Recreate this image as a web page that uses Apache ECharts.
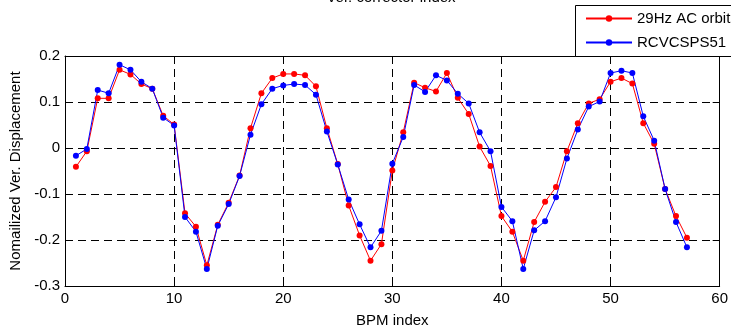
<!DOCTYPE html>
<html>
<head>
<meta charset="utf-8">
<script src="https://cdn.jsdelivr.net/npm/echarts@6/dist/echarts.min.js"></script>
<style>
  html, body { margin: 0; padding: 0; background: #fff; }
  #chart { width: 731px; height: 333px; }
</style>
</head>
<body>
<div id="chart"></div>
<script>
// BPM index (x values)
const bpmIndex = [1, 2, 3, 4, 5, 6, 7, 8, 9, 10, 11, 12, 13, 14, 15, 16, 17, 18, 19, 20,
  21, 22, 23, 24, 25, 26, 27, 28, 29, 30, 31, 32, 33, 34, 35, 36, 37, 38, 39, 40,
  41, 42, 43, 44, 45, 46, 47, 48, 49, 50, 51, 52, 53, 54, 55, 56, 57];

// 29Hz AC orbit (red)
const acOrbit = [-0.041, -0.007, 0.108, 0.108, 0.170, 0.160, 0.139, 0.129, 0.070, 0.051,
  -0.142, -0.171, -0.255, -0.167, -0.119, -0.060, 0.043, 0.119, 0.152, 0.161,
  0.161, 0.158, 0.134, 0.043, -0.035, -0.125, -0.190, -0.245, -0.209, -0.049,
  0.034, 0.142, 0.131, 0.123, 0.163, 0.109, 0.074, 0.003, -0.039, -0.148,
  -0.182, -0.245, -0.161, -0.117, -0.085, -0.007, 0.054, 0.097, 0.106, 0.144,
  0.152, 0.140, 0.054, 0.009, -0.089, -0.148, -0.195];

// RCVCSPS51 (blue)
const rcvcsps51 = [-0.017, -0.002, 0.126, 0.119, 0.181, 0.170, 0.144, 0.129, 0.066, 0.049,
  -0.150, -0.182, -0.263, -0.169, -0.122, -0.061, 0.029, 0.095, 0.129, 0.136,
  0.139, 0.137, 0.116, 0.036, -0.036, -0.112, -0.166, -0.216, -0.180, -0.034,
  0.024, 0.137, 0.122, 0.158, 0.147, 0.118, 0.097, 0.034, -0.007, -0.128,
  -0.159, -0.263, -0.179, -0.159, -0.107, -0.023, 0.040, 0.090, 0.101, 0.163,
  0.168, 0.163, 0.069, 0.016, -0.089, -0.161, -0.216];

const seriesNames = ["29Hz AC orbit", "RCVCSPS51"];
const xTicks = { min: 0, max: 60, interval: 10 };
const yTicks = { min: -0.3, max: 0.2, interval: 0.1 };

const FONT = "Liberation Sans";

const pairs = (ys) => bpmIndex.map((x, i) => [x, ys[i]]);

const tick = { show: true, inside: true, length: 7, lineStyle: { color: "#000" } };
const axLine = { show: true, onZero: false, lineStyle: { color: "#000", width: 1 } };
const dashed = { show: true, lineStyle: { color: "#000", width: 1, type: [8, 5] } };

const chart = echarts.init(document.getElementById("chart"));

const option = {
  animation: false,
  backgroundColor: "#fff",
  textStyle: { fontFamily: FONT },
  grid: { left: 65, right: 10, top: 56, bottom: 44 },
  legend: {
    orient: "vertical",
    left: 585,
    top: 11,
    itemWidth: 46,
    itemHeight: 8,
    itemGap: 9,
    padding: 0,
    z: 10,
    data: seriesNames,
    textStyle: { fontFamily: FONT, fontSize: 15, color: "#000" },
  },
  xAxis: [
    {
      type: "value",
      ...xTicks,
      name: "BPM index",
      nameLocation: "middle",
      nameGap: 27,
      nameTextStyle: { fontFamily: FONT, fontSize: 15, color: "#000", verticalAlign: "top" },
      axisLine: axLine,
      axisTick: tick,
      axisLabel: { color: "#000", fontSize: 15, fontFamily: FONT, margin: 5 },
      splitLine: dashed,
    },
    {
      type: "value",
      position: "top",
      ...xTicks,
      axisLine: axLine,
      axisTick: tick,
      axisLabel: { show: false },
      splitLine: { show: false },
    },
  ],
  yAxis: [
    {
      type: "value",
      ...yTicks,
      name: "Nomailized Ver. Displacement",
      nameLocation: "middle",
      nameGap: 40,
      nameTextStyle: { fontFamily: FONT, fontSize: 15, color: "#000" },
      axisLine: axLine,
      axisTick: tick,
      axisLabel: {
        color: "#000",
        fontSize: 15,
        fontFamily: FONT,
        margin: 5,
        formatter: (v) => (Math.abs(v) < 1e-9 ? "0" : v.toFixed(1)),
      },
      splitLine: dashed,
    },
    {
      type: "value",
      position: "right",
      ...yTicks,
      axisLine: axLine,
      axisTick: tick,
      axisLabel: { show: false },
      splitLine: { show: false },
    },
  ],
  graphic: [
    {
      type: "text",
      z: 10,
      style: {
        x: 391,
        y: -2,
        text: "Ver. corrector index",
        fontFamily: FONT,
        fontSize: 15,
        fill: "#000",
        align: "center",
        verticalAlign: "middle",
      },
    },
    {
      type: "rect",
      z: 5,
      shape: { x: 575.5, y: 5.5, width: 200, height: 51 },
      style: { fill: "#fff", stroke: "#000", lineWidth: 1 },
    },
  ],
  series: [
    {
      name: seriesNames[0],
      type: "line",
      data: pairs(acOrbit),
      symbol: "circle",
      symbolSize: 6,
      color: "#ff0000",
      lineStyle: { width: 1, color: "#ff0000" },
      itemStyle: { color: "#ff0000" },
    },
    {
      name: seriesNames[1],
      type: "line",
      data: pairs(rcvcsps51),
      symbol: "circle",
      symbolSize: 6,
      color: "#0000ff",
      lineStyle: { width: 1, color: "#0000ff" },
      itemStyle: { color: "#0000ff" },
    },
  ],
};

chart.setOption(option);
</script>
</body>
</html>
